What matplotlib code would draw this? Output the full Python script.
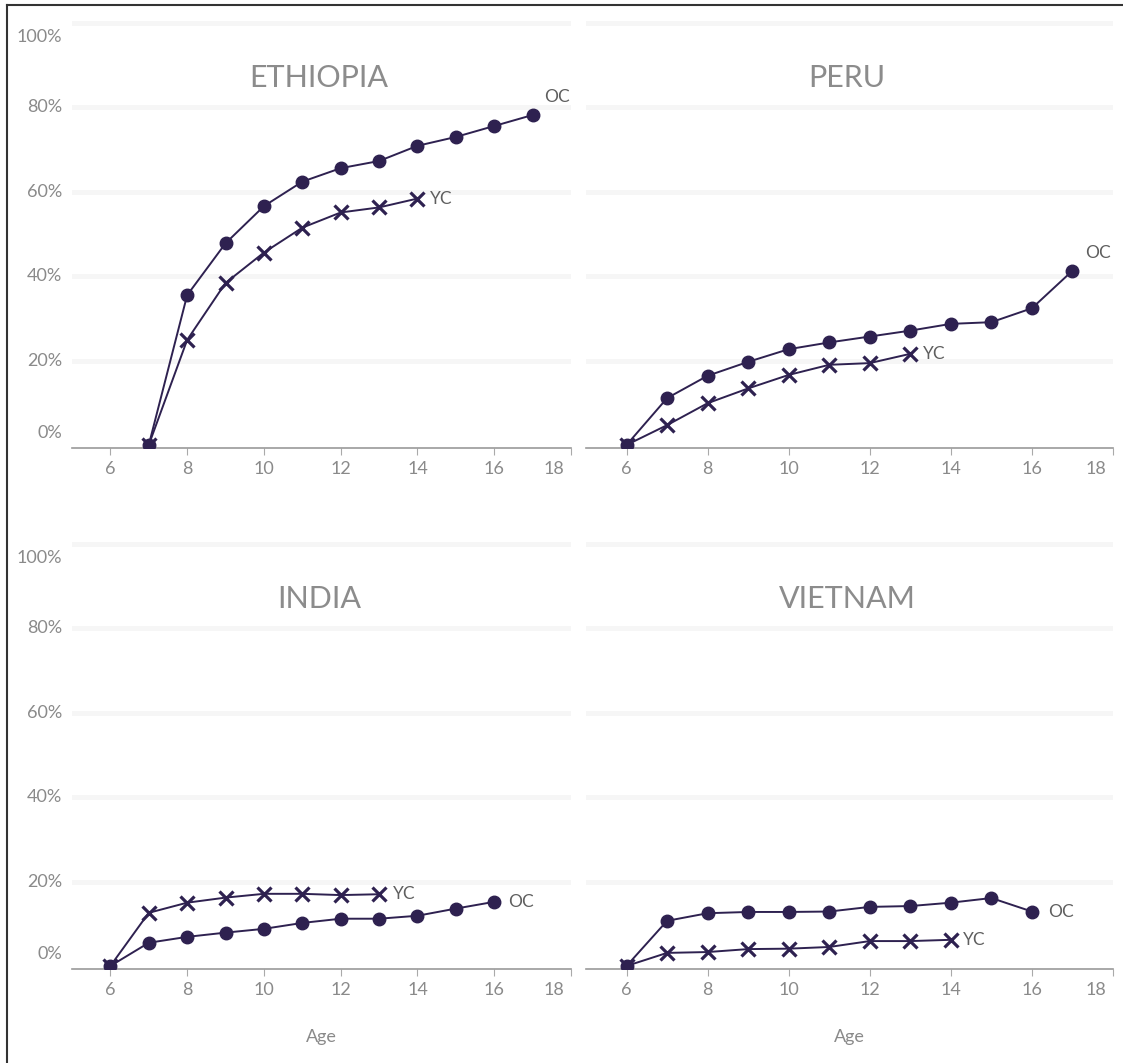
import numpy as np
import matplotlib.pyplot as plt
from matplotlib.lines import Line2D
from matplotlib.transforms import blended_transform_factory

plt.rcParams['font.family'] = ['Lato', 'DejaVu Sans']

# values in percent
eth_oc_age = [7, 8, 9, 10, 11, 12, 13, 14, 15, 16, 17]
eth_oc = [0, 35.5, 47.8, 56.6, 62.4, 65.6, 67.3, 70.9, 73.0, 75.6, 78.2]
eth_yc_age = [7, 8, 9, 10, 11, 12, 13, 14]
eth_yc = [0, 24.9, 38.4, 45.6, 51.5, 55.1, 56.3, 58.4]

peru_oc_age = [6, 7, 8, 9, 10, 11, 12, 13, 14, 15, 16, 17]
peru_oc = [0, 11.1, 16.4, 19.7, 22.7, 24.3, 25.7, 27.1, 28.7, 29.1, 32.4, 41.3]
peru_yc_age = [6, 7, 8, 9, 10, 11, 12, 13]
peru_yc = [0, 4.7, 9.9, 13.4, 16.6, 19.0, 19.4, 21.6]

india_oc_age = [6, 7, 8, 9, 10, 11, 12, 13, 14, 15, 16]
india_oc = [0, 5.5, 6.9, 7.9, 8.8, 10.2, 11.2, 11.2, 11.9, 13.6, 15.2]
india_yc_age = [6, 7, 8, 9, 10, 11, 12, 13]
india_yc = [0, 12.6, 15.0, 16.2, 17.1, 17.1, 16.8, 17.0]

viet_oc_age = [6, 7, 8, 9, 10, 11, 12, 13, 14, 15, 16]
viet_oc = [0, 10.7, 12.5, 12.8, 12.8, 12.9, 14.0, 14.2, 15.0, 16.1, 12.9]
viet_yc_age = [6, 7, 8, 9, 10, 11, 12, 13, 14]
viet_yc = [0, 3.1, 3.3, 4.0, 4.1, 4.5, 5.9, 5.9, 6.2]

x_ticks = [6, 8, 10, 12, 14, 16, 18]
y_ticks = [0, 20, 40, 60, 80, 100]
y_labels = ['0%', '20%', '40%', '60%', '80%', '100%']

W, H = 1123, 1063
LINE = '#2e2150'
GREY = '#8a8a8a'

fig = plt.figure(figsize=(W / 100, H / 100), dpi=100)


def px_rect(x0, x1, ybot, height):
    return [x0 / W, (H - ybot) / H, (x1 - x0) / W, height / H]


def panel(rect, title, oc_age, oc, yc_age, yc, oc_off, yc_off, left, bottom):
    ax = fig.add_axes(rect)
    ax.set_xlim(5, 18)
    ax.set_ylim(-0.6, 101.5)
    for v in y_ticks[1:]:
        ax.axhline(v, color='#f6f6f6', lw=3.5, zorder=0)
    ax.plot(oc_age, oc, color=LINE, lw=1.4, marker='o', ms=9, zorder=3)
    ax.plot(yc_age, yc, color=LINE, lw=1.4, marker='x', ms=9.5, mew=2.3, zorder=3)
    ax.annotate('OC', (oc_age[-1], oc[-1]), xytext=oc_off, textcoords='offset points',
                ha='left', va='center', color='#5f5f5f', fontsize=12.5)
    ax.annotate('YC', (yc_age[-1], yc[-1]), xytext=yc_off, textcoords='offset points',
                ha='left', va='center', color='#5f5f5f', fontsize=12.5)
    ax.text(0.495, 87, title, transform=blended_transform_factory(ax.transAxes, ax.transData),
            ha='center', va='center', color='#8c8c8c', fontsize=22)

    for s in ['top', 'right', 'left']:
        ax.spines[s].set_visible(False)
    ax.spines['bottom'].set_color('#9a9a9a')
    ax.spines['bottom'].set_linewidth(1.2)
    ax.set_yticks([])
    ax.set_xticks(x_ticks)
    ax.set_xticklabels([str(t) for t in x_ticks[:-1]] + [''])
    ax.tick_params(axis='x', length=5, color='#aaaaaa', labelcolor=GREY, labelsize=13, pad=5)
    # last label sits left of its tick, like in the original
    ax.annotate('18', (18, 0), xycoords=('data', 'axes fraction'), xytext=(-12, -10),
                textcoords='offset points', ha='center', va='top', color=GREY, fontsize=13)

    if left:
        tr = blended_transform_factory(ax.transAxes, ax.transData)
        pos = [2.8, 20, 40, 60, 80, 96.8]
        for p, lab in zip(pos, y_labels):
            ax.text(-0.02, p, lab, transform=tr, ha='right', va='center', color=GREY, fontsize=13)
    if bottom:
        ax.set_xlabel('Age', color=GREY, fontsize=13, labelpad=22)
    return ax


top_h = 430.8
panel(px_rect(72, 571, 447.5, top_h), 'ETHIOPIA', eth_oc_age, eth_oc, eth_yc_age, eth_yc,
      (8, 13), (9, 0), True, False)
panel(px_rect(586, 1113, 447.5, top_h), 'PERU', peru_oc_age, peru_oc, peru_yc_age, peru_yc,
      (9, 13), (9, 0), False, False)
panel(px_rect(72, 571, 968.5, top_h), 'INDIA', india_oc_age, india_oc, india_yc_age, india_yc,
      (10, 0), (10, 0), True, True)
panel(px_rect(586, 1113, 968.5, top_h), 'VIETNAM', viet_oc_age, viet_oc, viet_yc_age, viet_yc,
      (12, 0), (9, 0), False, True)

# frame on the left and top edges
fig.add_artist(Line2D([7 / W, 7 / W], [0, 1 - 5 / H], color='#333333', lw=1.5))
fig.add_artist(Line2D([7 / W, 1], [1 - 5 / H, 1 - 5 / H], color='#333333', lw=1.5))

fig.savefig('out.png', dpi=100, facecolor='white')
